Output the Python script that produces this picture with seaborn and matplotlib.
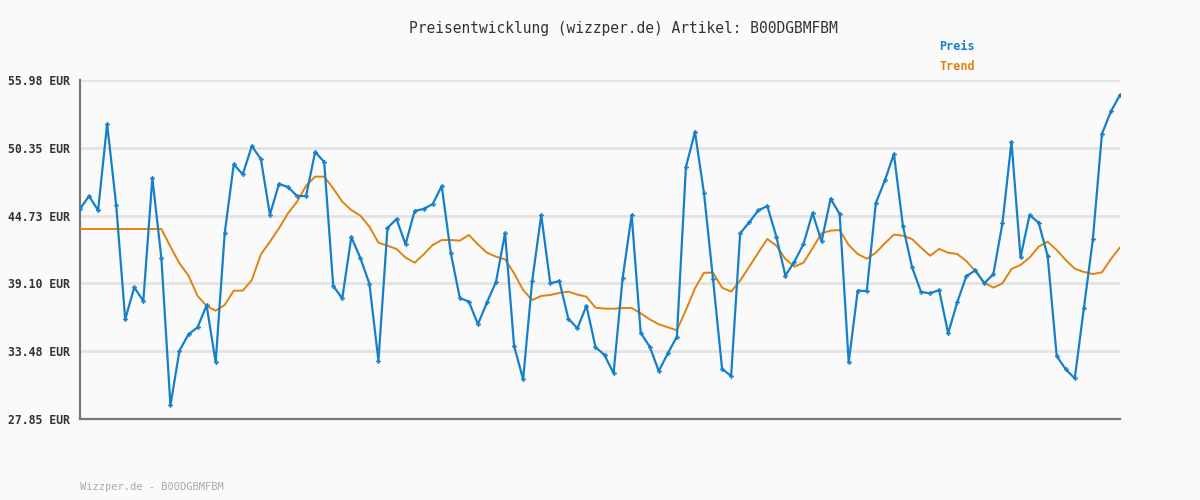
import matplotlib
matplotlib.use("Agg")
import matplotlib.pyplot as plt
import seaborn as sns
import pandas as pd

title = "Preisentwicklung (wizzper.de) Artikel: B00DGBMFBM"
footer = "Wizzper.de - B00DGBMFBM"
series_names = ["Preis", "Trend"]
y_ticks = [27.85, 33.48, 39.10, 44.73, 50.35, 55.98]
y_tick_labels = ["27.85 EUR", "33.48 EUR", "39.10 EUR", "44.73 EUR", "50.35 EUR", "55.98 EUR"]

preis = [
    45.28, 46.35, 45.16, 52.33, 45.61, 36.12, 38.78, 37.64, 47.85, 41.18,
    28.98, 33.52, 34.88, 35.46, 37.28, 32.55, 43.26, 48.98, 48.15, 50.50,
    49.42, 44.81, 47.35, 47.10, 46.35, 46.35, 50.01, 49.18, 38.89, 37.86,
    42.95, 41.21, 39.08, 32.69, 43.70, 44.45, 42.34, 45.11, 45.28, 45.69,
    47.18, 41.62, 37.89, 37.59, 35.71, 37.53, 39.22, 43.28, 33.91, 31.14,
    39.30, 44.78, 39.11, 39.30, 36.18, 35.37, 37.25, 33.82, 33.16, 31.64,
    39.52, 44.78, 34.99, 33.85, 31.83, 33.30, 34.68, 48.76, 51.67, 46.58,
    39.44, 32.00, 31.42, 43.26, 44.17, 45.16, 45.52, 42.98, 39.74, 40.91,
    42.37, 44.94, 42.59, 46.13, 44.86, 32.55, 38.50, 38.47, 45.77, 47.65,
    49.84, 43.86, 40.46, 38.39, 38.28, 38.55, 34.96, 37.53, 39.69, 40.19,
    39.11, 39.88, 44.09, 50.86, 41.26, 44.78, 44.14, 41.38, 33.08, 31.97,
    31.22, 37.03, 42.76, 51.50, 53.38, 54.74,
]

trend = [
    43.62, 43.62, 43.62, 43.62, 43.62, 43.62, 43.62, 43.62, 43.62, 43.62,
    42.15, 40.77, 39.74, 38.06, 37.23, 36.84, 37.31, 38.50, 38.50, 39.38,
    41.51, 42.56, 43.67, 44.92, 45.88, 47.21, 47.96, 47.96, 46.99, 45.88,
    45.19, 44.72, 43.81, 42.48, 42.23, 41.96, 41.24, 40.82, 41.51, 42.29,
    42.70, 42.70, 42.65, 43.12, 42.34, 41.65, 41.32, 41.10, 39.94, 38.55,
    37.72, 38.06, 38.14, 38.31, 38.42, 38.17, 38.00, 37.09, 37.01, 37.00,
    37.06, 37.06, 36.62, 36.12, 35.71, 35.46, 35.21, 36.89, 38.69, 39.99,
    39.99, 38.75, 38.42, 39.33, 40.49, 41.65, 42.79, 42.23, 41.13, 40.49,
    40.82, 42.01, 43.26, 43.48, 43.53, 42.29, 41.54, 41.15, 41.65, 42.43,
    43.15, 43.06, 42.79, 42.07, 41.40, 41.96, 41.65, 41.54, 40.96, 40.13,
    39.16, 38.75, 39.11, 40.30, 40.63, 41.24, 42.15, 42.56, 41.87, 41.04,
    40.32, 40.05, 39.88, 40.02, 41.13, 42.09,
]

df = pd.DataFrame({"idx": range(len(preis)), "preis": preis, "trend": trend})

sns.set_theme(style="white")
plt.rcParams["font.family"] = ["DejaVu Sans Mono", "DejaVu Sans"]

bg = "#fafafa"
blue = "#1580c8"
orange = "#e0820f"

fig = plt.figure(figsize=(12, 5), dpi=100, facecolor=bg)
ax = fig.add_axes([80 / 1200, 1 - 419 / 500, 1040 / 1200, 339 / 500])
ax.set_facecolor(bg)

sns.lineplot(data=df, x="idx", y="trend", ax=ax, color=orange, linewidth=1.4, zorder=3)
sns.lineplot(data=df, x="idx", y="preis", ax=ax, color=blue, linewidth=1.6,
             marker="P", markersize=3.5, markeredgewidth=0, zorder=4)

ax.set_xlim(0, len(preis) - 1)
ax.set_ylim(y_ticks[0], y_ticks[-1])
ax.set_yticks(y_ticks)
ax.set_yticklabels(y_tick_labels, fontsize=8.3, color="#333333", fontweight="bold")
ax.set_xticks([])
ax.set_xlabel("")
ax.set_ylabel("")
ax.tick_params(axis="y", length=0, pad=7, left=False)

ax.grid(axis="y", color="#e3e3e3", linewidth=2, zorder=0)
ax.set_axisbelow(True)
for s in ["top", "right"]:
    ax.spines[s].set_visible(False)
ax.spines["left"].set_color("#777777")
ax.spines["left"].set_linewidth(1.6)
ax.spines["bottom"].set_color("#777777")
ax.spines["bottom"].set_linewidth(1.6)

fig.text(623 / 1200, 1 - 28 / 500, title, ha="center", va="center", fontsize=10.5, color="#333333")
fig.text(939 / 1200, 1 - 47 / 500, series_names[0], ha="left", va="center", fontsize=8.5,
         color=blue, fontweight="bold")
fig.text(939 / 1200, 1 - 67 / 500, series_names[1], ha="left", va="center", fontsize=8.5,
         color=orange, fontweight="bold")
fig.text(80 / 1200, 1 - 487 / 500, footer, ha="left", va="center", fontsize=7.5, color="#aaaaaa")

fig.savefig("out.png", dpi=100, facecolor=bg)
